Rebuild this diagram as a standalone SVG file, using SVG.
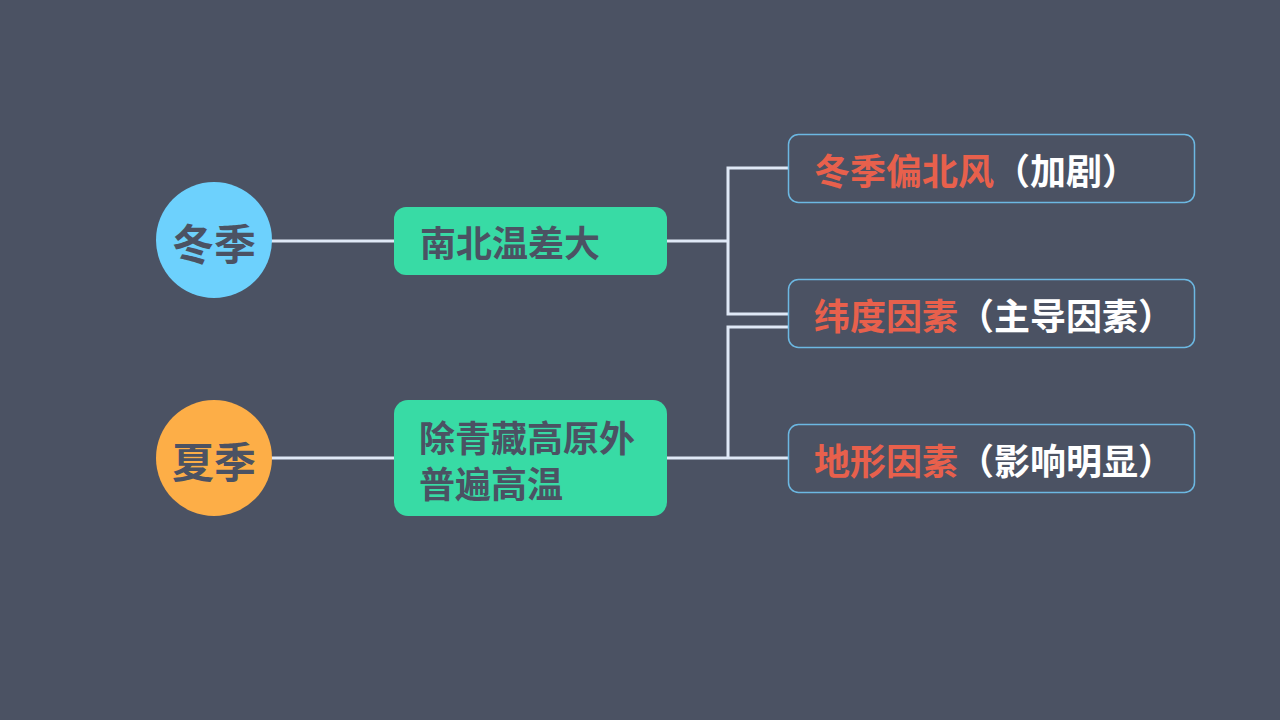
<svg xmlns="http://www.w3.org/2000/svg" width="1280" height="720" viewBox="0 0 1280 720">
<style>
text{font-family:"Noto Sans CJK SC","Noto Sans",sans-serif;font-weight:700;dominant-baseline:central}
.dark{fill:#4b5263}
.red{fill:#e8604c}
.white{fill:#ffffff}
.green{fill:#38dba5}
.rbox{fill:#4b5263;stroke:#6cb8e2;stroke-width:1.5}
.conn{fill:none;stroke:#dfe8f6;stroke-width:3}
</style>
<rect width="1280" height="720" fill="#4b5263"/>
<g id="connectors">
<line class="conn" x1="270" y1="241" x2="394" y2="241"/>
<line class="conn" x1="270" y1="458" x2="394" y2="458"/>
<polyline class="conn" points="666,241 728,241"/>
<polyline class="conn" points="788,168 728,168 728,314 788,314"/>
<polyline class="conn" points="666,458 788,458"/>
<polyline class="conn" points="788,327 728,327 728,458"/>
</g>
<g id="winter">
<circle cx="214" cy="240" r="58" fill="#6dd1fd"/>
<text class="dark" x="214" y="241" font-size="42" font-weight="900" text-anchor="middle">冬季</text>
</g>
<g id="summer">
<circle cx="214" cy="458" r="58" fill="#fdae47"/>
<text class="dark" x="214" y="459" font-size="42" font-weight="900" text-anchor="middle">夏季</text>
</g>
<g id="winter-effect">
<rect class="green" x="394" y="207" width="273" height="68" rx="12"/>
<text class="dark" x="420" y="241" font-size="36">南北温差大</text>
</g>
<g id="summer-effect">
<rect class="green" x="394" y="400" width="273" height="116" rx="14"/>
<text class="dark" font-size="36"><tspan x="419" y="436">除青藏高原外</tspan><tspan x="419" y="482">普遍高温</tspan></text>
</g>
<g id="factor-wind">
<rect class="rbox" x="788.5" y="134.5" width="406" height="68" rx="10"/>
<text x="814" y="169" font-size="36"><tspan class="red">冬季偏北风</tspan><tspan class="white">（加剧）</tspan></text>
</g>
<g id="factor-latitude">
<rect class="rbox" x="788.5" y="279.5" width="406" height="68" rx="10"/>
<text x="814" y="314" font-size="36"><tspan class="red">纬度因素</tspan><tspan class="white">（主导因素）</tspan></text>
</g>
<g id="factor-terrain">
<rect class="rbox" x="788.5" y="424.5" width="406" height="68" rx="10"/>
<text x="814" y="459" font-size="36"><tspan class="red">地形因素</tspan><tspan class="white">（影响明显）</tspan></text>
</g>
</svg>
